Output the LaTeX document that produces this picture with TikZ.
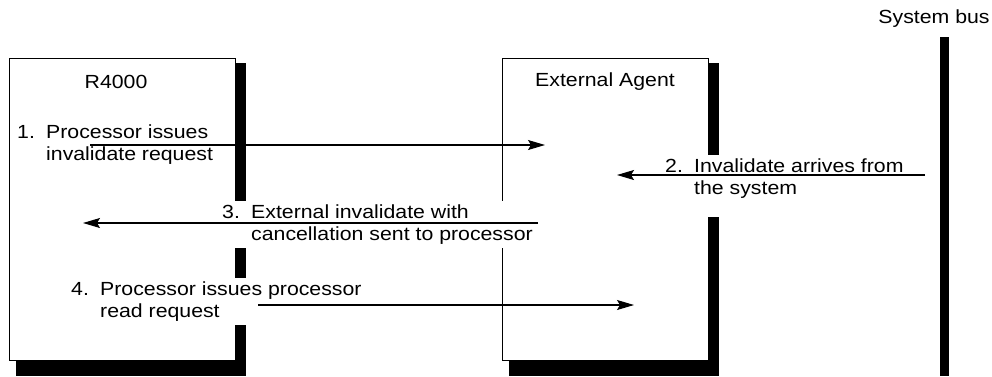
\documentclass[tikz,border=0pt]{standalone}
\usepackage{fontspec}
\setmainfont{Liberation Sans}[FakeStretch=1.12]
\usetikzlibrary{arrows.meta}

% numbered message text: number, then two lines with a hanging indent
\newcommand{\msgtext}[3]{\begin{tabular}[t]{@{}l@{}}\makebox[29pt][l]{#1}#2\\\hspace{29pt}#3\end{tabular}}

\tikzset{
    unitbox/.style={draw=black, fill=white, line width=1.1pt, inner sep=0pt, anchor=north west},
    msg/.style={fill=white, inner xsep=0pt, inner ysep=1pt, anchor=base west},
    msgarrow/.style={line width=1.1pt, -{Stealth[length=17pt, width=10pt, inset=3pt]}}
}

\begin{document}
\begin{tikzpicture}[x=1pt, y=-1pt, font=\fontsize{19}{22.5}\selectfont]
    \useasboundingbox (0,0) rectangle (992,376);
    % the two units, each with its heavy shadow
    \foreach \x/\w/\tx/\name/\title in {9/226/116/r4000/R4000, 502/206/605/agent/External Agent}{
        \fill[black] ({\x+7},63) rectangle ({\x+\w+11},376);
        \node[unitbox, minimum width=\w pt, minimum height=302pt] (\name) at (\x,58) {};
        \node (\name-title) at (\tx,82) {\title};
    }
    % system bus
    \node[fill=black, inner sep=0pt, minimum width=9pt, minimum height=339pt, anchor=north] (bus) at (944.5,37) {};
    \node (bus-title) at (934,19) {System bus};

    % message texts
    \node[msg] (m1) at (17,138) {\msgtext{1.}{Processor issues}{invalidate request}};
    \node[msg, text depth=44pt] (m2) at (665,172) {\msgtext{2.}{Invalidate arrives from}{the system}};
    \node[msg] (m3) at (222,218) {\msgtext{3.}{External invalidate with}{cancellation sent to processor}};
    \node[msg] (m4) at (71,295) {\msgtext{4.}{Processor issues processor}{read request}};

    % message arrows
    \foreach \i/\xa/\xb/\y in {1/90/545/145, 2/925/617/175, 3/538/83/223, 4/258/634/305}{
        \coordinate (s\i) at (\xa,\y);
        \coordinate (e\i) at (\xb,\y);
        \draw[msgarrow] (s\i) -- (e\i);
    }
\end{tikzpicture}
\end{document}
